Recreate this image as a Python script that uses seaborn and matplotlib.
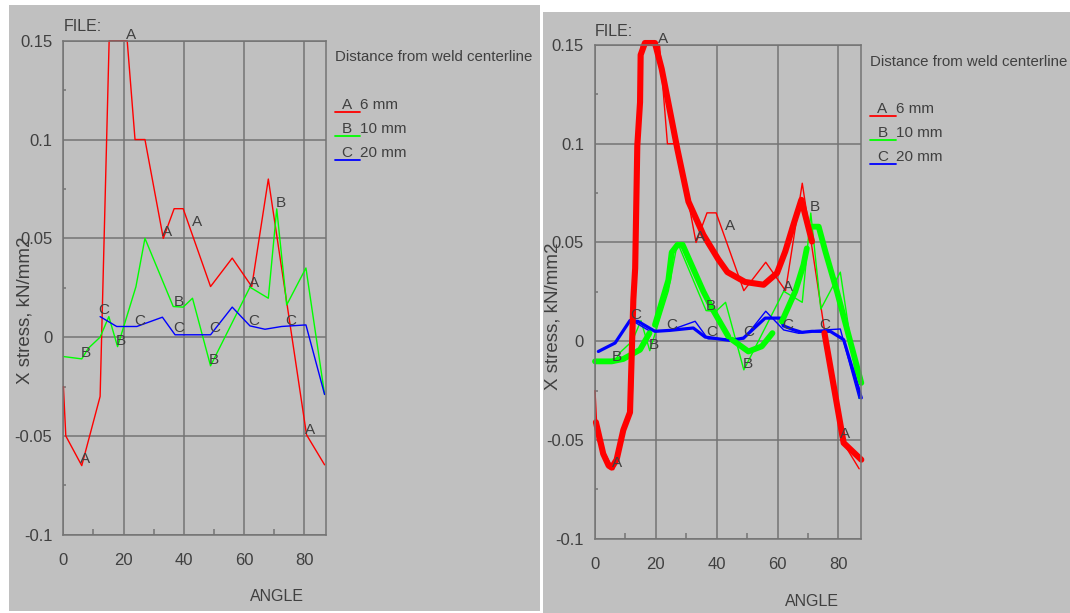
import numpy as np
import pandas as pd
import matplotlib
matplotlib.use("Agg")
import matplotlib.pyplot as plt
from matplotlib.patches import Rectangle
from matplotlib.lines import Line2D
from matplotlib.ticker import FixedLocator
import seaborn as sns

# raw curves (thin lines)
a_x = [0, 0.8, 6.1, 12.2, 15.2, 21.2, 23.8, 27.1, 33.2, 36.8, 39.8, 48.9, 56.1, 62.6, 68.1, 80.8, 86.8]
a_y = [-0.025, -0.05, -0.065, -0.030, 0.15, 0.15, 0.10, 0.10, 0.05, 0.065, 0.065, 0.0256, 0.040, 0.0256, 0.080, -0.0494, -0.0646]
b_x = [0, 6.1, 8.3, 12.2, 15.1, 18.0, 24.1, 27.1, 36.5, 39.8, 42.9, 48.9, 62.0, 68.1, 70.9, 74.2, 80.6, 86.8]
b_y = [-0.0098, -0.011, -0.0056, 0.0, 0.0104, -0.0048, 0.0255, 0.05, 0.0155, 0.0152, 0.0197, -0.0145, 0.0253, 0.0197, 0.0649, 0.0163, 0.035, -0.029]
c_x = [12.2, 17.7, 24.4, 32.9, 37.1, 48.9, 56.1, 62.0, 67.0, 72.5, 80.6, 86.8]
c_y = [0.0104, 0.0054, 0.0054, 0.0101, 0.0012, 0.0012, 0.0152, 0.0057, 0.004, 0.0054, 0.0062, -0.029]

# smoothed curves (thick lines, right panel), segment id marks the gaps
fa_x = [0.3, 2.7, 4.5, 5.5, 7.1, 9.3, 11.5, 12.6, 13.2, 13.9, 14.8, 15.0, 16.4, 19.7, 21.9, 24.7, 27.1, 30.7, 35.6,
        40.5, 43.5, 49.3, 55.4, 59.8, 62.5, 65.2, 67.8, 71.3, 75.4, 81.7, 87.5]
fa_y = [-0.041, -0.057, -0.063, -0.064, -0.060, -0.045, -0.036, 0.021, 0.037, 0.099, 0.121, 0.145, 0.151, 0.151, 0.138,
        0.116, 0.097, 0.0707, 0.0539, 0.0415, 0.035, 0.030, 0.0286, 0.0345, 0.0454, 0.059, 0.0716, 0.0505, 0.0041, -0.0515, -0.060]
fa_seg = [0] * 28 + [1] * 3
fb_x = [0, 5.5, 9.3, 14.8, 17.9, 19.7, 24.1, 25.2, 27.1, 28.8, 35.6, 38.4, 43.8, 45.0, 50.4, 54.8, 58.3,
        61.4, 65.8, 68.5, 69.6, 71.3, 73.5, 75.7, 79.5, 87.5]
fb_y = [-0.0102, -0.0102, -0.009, -0.0043, 0.0041, 0.0083, 0.031, 0.045, 0.0488, 0.0488, 0.0252, 0.0168, 0.0024, 0.0008,
        -0.0052, -0.0026, 0.0041, 0.010, 0.0252, 0.0387, 0.047, 0.058, 0.058, 0.0454, 0.0252, -0.0211]
fb_seg = [0] * 5 + [1] * 8 + [2] * 4 + [3] * 4 + [4] * 5
fc_x = [1.1, 6.6, 11.5, 14.2, 19.7, 24.7, 32.3, 36.2, 44.4, 48.8, 55.9, 60.9, 61.9, 65.2, 68.0, 71.3, 77.3, 81.7, 87.5]
fc_y = [-0.0052, -0.0009, 0.0105, 0.010, 0.005, 0.0055, 0.0067, 0.0021, 0.0004, 0.0016, 0.0117, 0.0117, 0.0078,
        0.0058, 0.0045, 0.005, 0.005, 0.0008, -0.0287]

# curve letters
lab_a = [(22.4, 0.153), (34.4, 0.053), (44.4, 0.0585), (63.3, 0.0276), (7.3, -0.0617), (82.1, -0.047)]
lab_b = [(72.2, 0.068), (38.2, 0.018), (7.3, -0.0078), (19.2, -0.0017), (50.1, -0.0115)]
lab_c = [(13.5, 0.0135), (25.3, 0.0084), (38.4, 0.0046), (50.4, 0.0046), (63.4, 0.0084), (75.4, 0.0084)]

legend_names = ["6 mm", "10 mm", "20 mm"]
letters = ["A", "B", "C"]
colors = ["#ff0000", "#00ff00", "#0000ff"]

y_ticks = [-0.1, -0.05, 0, 0.05, 0.1, 0.15]
x_ticks = [0, 20, 40, 60, 80]

sns.set_style("ticks")
plt.rcParams['font.family'] = ['Liberation Sans', 'DejaVu Sans']
TXT = "#404040"
GRID = "#747474"
BG = "#c0c0c0"
FS = 11

W, H = 1070, 613
fig = plt.figure(figsize=(W / 100, H / 100), dpi=100, facecolor="white")


def fx(px):
    return px / W


def fy(py):
    return 1 - py / H


# gray panels
fig.patches.append(Rectangle((fx(8.6), fy(611)), fx(539.5 - 8.6), (611 - 5) / H,
                             transform=fig.transFigure, facecolor=BG, edgecolor="none", zorder=-5))
fig.patches.append(Rectangle((fx(542.7), fy(613)), fx(1070 - 542.7), (613 - 11.7) / H,
                             transform=fig.transFigure, facecolor=BG, edgecolor="none", zorder=-5))


def setup(ax):
    ax.set_facecolor(BG)
    ax.set_xlim(0, 87.4)
    ax.set_ylim(-0.1, 0.15)
    ax.xaxis.set_major_locator(FixedLocator(x_ticks))
    ax.xaxis.set_minor_locator(FixedLocator([10, 30, 50, 70]))
    ax.yaxis.set_major_locator(FixedLocator(y_ticks))
    ax.yaxis.set_minor_locator(FixedLocator([-0.075, -0.025, 0.025, 0.075, 0.125]))
    ax.set_yticklabels([f"{v:g}" for v in y_ticks])
    ax.grid(True, which="major", color=GRID, lw=1.1)
    for s in ax.spines.values():
        s.set_color(GRID)
        s.set_linewidth(1.1)
    ax.tick_params(which="major", length=0, labelsize=12, colors=TXT)
    ax.tick_params(axis="x", which="major", pad=13)
    ax.tick_params(axis="y", which="major", pad=8)
    ax.tick_params(axis="x", which="minor", direction="in", length=4.5, color=GRID, width=1.1)
    ax.tick_params(axis="y", which="minor", direction="in", length=2.5, color=GRID, width=1.1)
    ax.set_xlabel("")
    ax.set_ylabel("")


def thin_lines(ax):
    for xs, ys, col in [(a_x, a_y, colors[0]), (b_x, b_y, colors[1]), (c_x, c_y, colors[2])]:
        sns.lineplot(x=xs, y=ys, sort=False, estimator=None, color=col, lw=1.0, clip_on=False, ax=ax)


def letters_on(ax):
    for labs, t in [(lab_a, "A"), (lab_b, "B"), (lab_c, "C")]:
        for x, y in labs:
            ax.text(x, y, t, ha="center", va="center", fontsize=11, color=TXT, zorder=5)


def legend_block(x0, y_title, ys, xl1, xl2, xletter, xname, file_x, file_y):
    fig.text(fx(file_x), fy(file_y), "FILE:", fontsize=11.5, color=TXT, ha="left", va="center")
    fig.text(fx(x0), fy(y_title), "Distance from weld centerline", fontsize=10.8, color=TXT,
             ha="left", va="center")
    for i, y in enumerate(ys):
        fig.add_artist(Line2D([fx(xl1), fx(xl2)], [fy(y + 7), fy(y + 7)], color=colors[i], lw=1.3,
                              transform=fig.transFigure))
        fig.text(fx(xletter), fy(y), letters[i], fontsize=FS, color=TXT, ha="center", va="center")
        fig.text(fx(xname), fy(y), legend_names[i], fontsize=FS, color=TXT, ha="left", va="center")


# left panel: raw data
ax1 = fig.add_axes([fx(63.4), fy(534.8), fx(326.4 - 63.4), (534.8 - 40.7) / H])
thin_lines(ax1)
letters_on(ax1)
setup(ax1)

# right panel: raw data + smoothed
ax2 = fig.add_axes([fx(595), fy(538.7), fx(861 - 595), (538.7 - 45) / H])
thin_lines(ax2)
for xs, ys, seg, col, lw in [(fc_x, fc_y, [0] * len(fc_x), colors[2], 2.3),
                             (fb_x, fb_y, fb_seg, colors[1], 4.2),
                             (fa_x, fa_y, fa_seg, colors[0], 4.4)]:
    d = pd.DataFrame({"angle": xs, "stress": ys, "seg": seg})
    sns.lineplot(data=d, x="angle", y="stress", units="seg", estimator=None, sort=False,
                 color=col, lw=lw, clip_on=False, ax=ax2)
letters_on(ax2)
setup(ax2)

legend_block(334.7, 57, [105, 129.3, 153.3], 334.7, 359.8, 347, 360.5, 63.7, 26.7)
legend_block(869.6, 61.7, [109.3, 133.3, 157.3], 869.6, 895.6, 882.5, 896, 595.1, 32)

# axis titles
for cx, cy in [(25, 310), (553.5, 316)]:
    fig.text(fx(cx), fy(cy), "X stress, kN/mm2", rotation=90, fontsize=13.5, color=TXT,
             ha="center", va="center")
fig.text(fx(277.2), fy(596.7), "ANGLE", fontsize=11.5, color=TXT, ha="center", va="center")
fig.text(fx(812), fy(601.7), "ANGLE", fontsize=11.5, color=TXT, ha="center", va="center")

fig.savefig("out.png", dpi=100, facecolor="white")
